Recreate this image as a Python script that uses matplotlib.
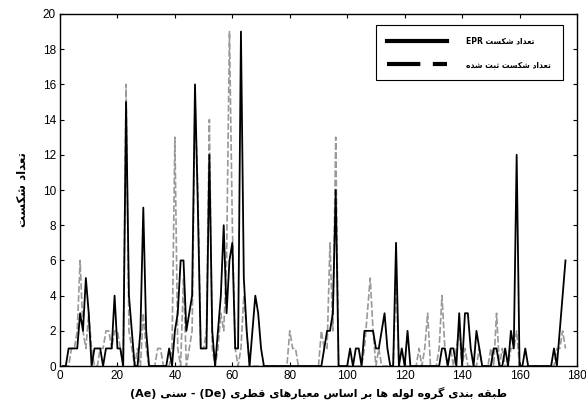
import numpy as np
import matplotlib
matplotlib.use("Agg")
import matplotlib.pyplot as plt
from matplotlib.lines import Line2D

# pipe group index (1..176)
groups = np.arange(1, 177)

# failures predicted by EPR
epr = [0, 0, 1, 1, 1, 1, 3, 2, 5, 3,
       0, 1, 1, 1, 0, 1, 1, 1, 4, 1,
       1, 0, 15, 4, 2, 0, 0, 2, 9, 2,
       0, 0, 0, 0, 0, 0, 0, 1, 0, 2,
       3, 6, 6, 2, 3, 4, 16, 9, 1, 1,
       1, 12, 2, 0, 2, 4, 8, 3, 6, 7,
       1, 1, 19, 5, 2, 0, 2, 4, 3, 1,
       0, 0, 0, 0, 0, 0, 0, 0, 0, 0,
       0, 0, 0, 0, 0, 0, 0, 0, 0, 0,
       0, 1, 2, 2, 3, 10, 0, 0, 0, 0,
       1, 0, 1, 1, 0, 2, 2, 2, 2, 1,
       1, 2, 3, 1, 0, 0, 7, 0, 1, 0,
       2, 0, 0, 0, 0, 0, 0, 0, 0, 0,
       0, 0, 1, 1, 0, 1, 1, 0, 3, 0,
       3, 3, 1, 0, 2, 1, 0, 0, 0, 0,
       1, 1, 0, 0, 1, 0, 2, 1, 12, 0,
       0, 1, 0, 0, 0, 0, 0, 0, 0, 0,
       0, 1, 0, 2, 4, 6]

# recorded failures
recorded = [0, 0, 0, 1, 1, 2, 6, 2, 1, 3,
            1, 0, 0, 1, 1, 2, 2, 1, 2, 2,
            1, 0, 16, 2, 1, 0, 1, 0, 3, 1,
            0, 0, 0, 1, 1, 0, 0, 0, 1, 13,
            1, 0, 5, 0, 1, 2, 15, 10, 1, 1,
            2, 14, 1, 0, 1, 3, 2, 6, 19, 8,
            1, 0, 1, 4, 2, 0, 0, 0, 0, 0,
            0, 0, 0, 0, 0, 0, 0, 0, 0, 2,
            1, 1, 0, 0, 0, 0, 0, 0, 0, 0,
            2, 1, 1, 7, 2, 13, 0, 0, 0, 0,
            0, 0, 0, 0, 0, 1, 3, 5, 2, 0,
            1, 0, 0, 0, 0, 0, 5, 0, 0, 0,
            0, 0, 0, 0, 1, 0, 1, 3, 0, 0,
            0, 1, 4, 1, 0, 1, 0, 1, 2, 0,
            1, 0, 0, 0, 0, 1, 0, 0, 0, 1,
            0, 3, 0, 1, 0, 0, 1, 1, 2, 0,
            0, 0, 0, 0, 0, 0, 0, 0, 0, 0,
            0, 0, 1, 1, 2, 1]

# presentation forms: (isolated, final, initial, medial)
FORMS = {
    "ا": (0xFE8D, 0xFE8E), "ب": (0xFE8F, 0xFE90, 0xFE91, 0xFE92),
    "ت": (0xFE95, 0xFE96, 0xFE97, 0xFE98), "ث": (0xFE99, 0xFE9A, 0xFE9B, 0xFE9C),
    "د": (0xFEA9, 0xFEAA), "ر": (0xFEAD, 0xFEAE),
    "س": (0xFEB1, 0xFEB2, 0xFEB3, 0xFEB4), "ش": (0xFEB5, 0xFEB6, 0xFEB7, 0xFEB8),
    "ط": (0xFEC1, 0xFEC2, 0xFEC3, 0xFEC4), "ع": (0xFEC9, 0xFECA, 0xFECB, 0xFECC),
    "ق": (0xFED5, 0xFED6, 0xFED7, 0xFED8), "ل": (0xFEDD, 0xFEDE, 0xFEDF, 0xFEE0),
    "م": (0xFEE1, 0xFEE2, 0xFEE3, 0xFEE4), "ن": (0xFEE5, 0xFEE6, 0xFEE7, 0xFEE8),
    "ه": (0xFEE9, 0xFEEA, 0xFEEB, 0xFEEC), "و": (0xFEED, 0xFEEE),
    "ک": (0xFB8E, 0xFB8F, 0xFB90, 0xFB91), "گ": (0xFB92, 0xFB93, 0xFB94, 0xFB95),
    "ی": (0xFBFC, 0xFBFD, 0xFBFE, 0xFBFF),
}


def fa(s):
    # shape Persian letters and put them in visual (left-to-right) order
    out = []
    for i, ch in enumerate(s):
        f = FORMS.get(ch)
        if f is None:
            out.append(ch)
            continue
        prev = s[i - 1] if i > 0 else ""
        nxt = s[i + 1] if i + 1 < len(s) else ""
        join_prev = prev in FORMS and len(FORMS[prev]) == 4
        join_next = len(f) == 4 and nxt in FORMS
        if join_prev and join_next:
            out.append(chr(f[3]))
        elif join_prev:
            out.append(chr(f[1]))
        elif join_next:
            out.append(chr(f[2]))
        else:
            out.append(chr(f[0]))
    return "".join(out)[::-1]


ylabel = fa("تعداد شکست")
xlabel = "(Ae) " + fa("سنی") + " - (De) " + fa("طبقه بندی گروه لوله ها بر اساس معیارهای قطری")
leg_epr = "EPR " + fa("تعداد شکست")
leg_rec = fa("تعداد شکست ثبت شده")

plt.rcParams["font.family"] = ["DejaVu Sans"]

fig = plt.figure(figsize=(5.86, 4.09), dpi=100)
ax = fig.add_axes([0.1024, 0.105, 0.8822, 0.8608])

ax.plot(groups, recorded, color="#999999", linewidth=1.2, dashes=(4, 1.5))
ax.plot(groups, epr, color="black", linewidth=1.3)

ax.set_xlim(0, 180)
ax.set_ylim(0, 20)
ax.set_xticks(range(0, 181, 20))
ax.set_yticks(range(0, 21, 2))
ax.tick_params(direction="in", top=True, right=True, length=3, labelsize=8.5, pad=3)
for lab in ax.get_xticklabels() + ax.get_yticklabels():
    lab.set_family("Liberation Sans")
for sp in ax.spines.values():
    sp.set_linewidth(1.0)

ax.set_xlabel(xlabel, fontsize=8, fontweight="bold", labelpad=3)
ax.set_ylabel(ylabel, fontsize=8.5, fontweight="bold", labelpad=10)

handles = [Line2D([], [], color="black", linewidth=3),
           Line2D([], [], color="black", linewidth=3, dashes=(8, 3))]
leg = ax.legend(handles, [leg_epr, leg_rec], loc="upper right",
                bbox_to_anchor=(0.98, 0.98), fancybox=False, framealpha=1,
                edgecolor="black", handlelength=7.8, handletextpad=2.6,
                borderpad=1.5, labelspacing=1.9,
                prop={"size": 5.5, "weight": "bold"})
leg.get_frame().set_linewidth(0.8)

fig.savefig("out.png", dpi=100)
